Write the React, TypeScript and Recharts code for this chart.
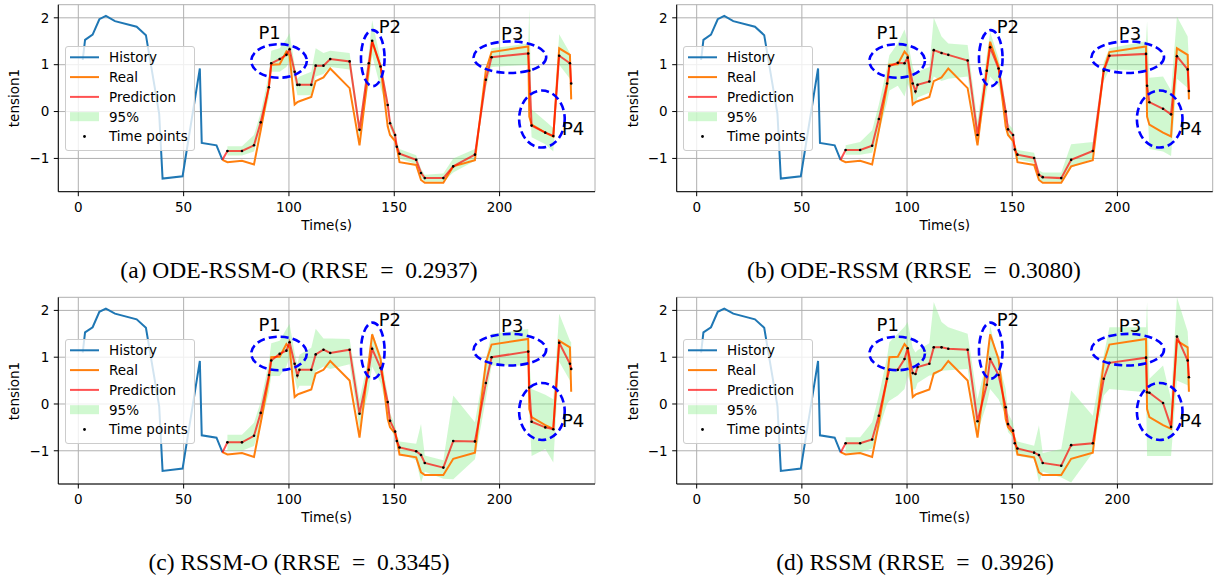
import React from "react";
import {
  ComposedChart,
  Line,
  Area,
  Scatter,
  XAxis,
  YAxis,
  CartesianGrid,
  ReferenceDot,
} from "recharts";

// history segment (shared by all four panels)
const HIST_T = [2.1, 3.2, 6.8, 10.0, 13.1, 17.4, 27.7, 32.1, 38.4, 40.0, 49.5, 57.7, 58.6, 65.6, 68.4];
const HIST = [1.1, 1.53, 1.64, 1.97, 2.04, 1.93, 1.81, 1.63, -0.05, -1.43, -1.38, 0.92, -0.67, -0.72, -1.03];

// irregular time points of the forecast window
const T = [
  68.4, 70.8, 77.7, 83.4, 86.6, 90.5, 91.6, 95.6, 98.8, 100.3,
  102.7, 104.0, 105.0, 110.6, 112.7, 116.4, 119.6, 128.8, 133.5, 137.9,
  139.5, 143.5, 146.9, 148.0, 150.4, 151.2, 152.5, 160.4, 162.7, 164.5,
  173.3, 178.0, 188.3, 193.5, 196.2, 213.6, 214.1, 215.2, 221.7, 225.5,
  228.3, 233.4, 234.0,
];
const REAL = [
  -1.03, -1.08, -1.05, -1.13, -0.4, 0.55, 1.0, 1.01, 1.28, 1.2,
  0.15, 0.2, 0.22, 0.31, 0.65, 0.73, 0.92, 0.5, -0.72, 0.9,
  1.49, 0.96, -0.32, -0.5, -0.63, -0.75, -1.08, -1.14, -1.46, -1.52,
  -1.52, -1.17, -1.04, 0.89, 1.27, 1.39, -0.11, -0.28, -0.45, -0.53,
  1.35, 1.21, 0.26,
];

// (a) ODE-RSSM-O
const PRED_A = [
  -1.03, -0.84, -0.84, -0.72, -0.23, 0.52, 1.03, 1.12, 1.21, 1.33,
  0.85, 0.57, 0.57, 0.57, 0.98, 0.98, 1.12, 1.07, -0.39, 1.03,
  1.51, 0.96, 0.14, -0.25, -0.5, -0.75, -0.9, -1.03, -1.31, -1.42,
  -1.42, -1.17, -0.92, 0.68, 1.16, 1.24, 0.87, -0.3, -0.45, -0.52,
  1.19, 1.03, 0.6,
];
const LO_A = [
  null, -0.94, -0.94, -0.85, -0.4, 0.3, 0.85, 0.85, 0.95, 1.1,
  0.65, 0.35, 0.35, 0.35, 0.75, 0.8, 0.95, 0.9, -0.55, 0.6,
  1.2, 0.5, 0.05, -0.35, -0.6, -0.85, -1.0, -1.12, -1.4, -1.5,
  -1.5, -1.3, -1.05, 0.5, 0.95, 1.0, 0.5, -0.55, -0.7, -0.85,
  1.0, 0.7, 0.35,
];
const HI_A = [
  null, -0.74, -0.74, -0.5, -0.02, 0.8, 1.3, 1.35, 1.55, 1.67,
  1.0, 0.7, 0.75, 0.85, 1.35, 1.25, 1.3, 1.25, -0.25, 1.25,
  1.95, 1.1, 0.25, -0.15, -0.4, -0.65, -0.8, -0.93, -1.22, -1.35,
  -1.32, -1.0, -0.8, 0.85, 1.35, 1.45, 2.2, 0.05, -0.2, -0.35,
  1.65, 1.25, 0.9,
];

// (b) ODE-RSSM
const PRED_B = [
  -1.03, -0.82, -0.82, -0.73, -0.16, 0.6, 0.97, 1.04, 1.03, 1.15,
  0.6, 0.43, 0.57, 0.64, 1.31, 1.25, 1.21, 1.09, -0.5, 0.87,
  1.37, 0.92, 0.0, -0.38, -0.5, -0.81, -0.92, -0.99, -1.35, -1.4,
  -1.42, -1.03, -0.84, 0.87, 1.19, 1.23, 0.55, 0.2, 0.06, -0.06,
  1.18, 0.9, 0.44,
];
const LO_B = [
  null, -0.92, -0.92, -0.88, -0.45, 0.2, 0.45, 0.55, 0.32, 0.6,
  0.3, 0.15, 0.3, 0.4, 0.75, 0.65, 0.7, 0.75, -0.7, 0.45,
  0.75, 0.55, -0.15, -0.5, -0.62, -0.92, -1.02, -1.1, -1.45, -1.5,
  -1.5, -1.2, -1.0, 0.65, 0.9, 0.88, 0.3, -0.8, -0.85, -0.95,
  0.7, 0.5, 0.27,
];
const HI_B = [
  null, -0.72, -0.65, -0.4, 0.15, 0.95, 1.2, 1.45, 1.75, 1.5,
  0.95, 0.8, 0.85, 0.95, 2.0, 1.6, 1.45, 1.42, -0.2, 1.2,
  1.7, 1.15, 0.15, -0.25, -0.38, -0.7, -0.82, -0.88, -1.25, -1.3,
  -1.3, -0.7, -0.65, 1.05, 1.35, 1.5, 1.92, 0.72, 0.75, 0.45,
  2.03, 1.6, 1.05,
];

// (c) RSSM-O
const PRED_C = [
  -1.04, -0.82, -0.82, -0.68, -0.19, 0.62, 0.93, 1.07, 1.14, 1.32,
  0.86, 0.61, 0.73, 0.73, 1.06, 1.16, 1.09, 1.16, -0.21, 0.73,
  1.18, 0.77, 0.04, -0.36, -0.59, -0.79, -0.93, -1.01, -1.09, -1.26,
  -1.36, -0.79, -0.8, 0.45, 1.0, 1.12, 0.35, -0.38, -0.5, -0.54,
  1.31, 0.86, 0.75,
];
const LO_C = [
  null, -1.0, -1.0, -0.9, -0.45, 0.25, 0.6, 0.6, 0.8, 1.0,
  0.55, 0.3, 0.39, 0.39, 0.7, 0.8, 0.75, 0.85, -0.54, 0.3,
  0.8, 0.45, -0.15, -0.5, -0.72, -0.92, -1.05, -1.2, -1.68, -1.45,
  -1.6, -1.61, -1.18, 0.11, 0.82, 0.82, -0.2, -1.11, -0.96, -1.25,
  0.9, 0.5, 0.32,
];
const HI_C = [
  null, -0.66, -0.66, -0.4, 0.05, 0.9, 1.3, 1.35, 1.6, 1.71,
  1.1, 0.85, 1.05, 1.2, 1.61, 1.4, 1.4, 1.39, 0.1, 1.0,
  1.54, 1.05, 0.2, -0.2, -0.45, -0.65, -0.8, -0.85, -0.43, -1.1,
  -1.2, 0.18, -0.39, 0.96, 1.5, 1.6, 0.9, 0.32, 0.2, 0.1,
  1.93, 1.35, 1.32,
];

// (d) RSSM
const PRED_D = [
  -1.04, -0.84, -0.84, -0.76, -0.25, 0.54, 0.73, 0.73, 0.96, 1.19,
  0.66, 0.64, 0.79, 0.86, 1.21, 1.21, 1.18, 1.16, -0.37, 0.41,
  0.96, 0.62, -0.07, -0.43, -0.57, -0.84, -0.95, -1.04, -1.09, -1.26,
  -1.32, -0.88, -0.84, 0.54, 0.88, 0.99, 0.25, 0.24, 0.02, -0.49,
  1.44, 0.93, 0.57,
];
const LO_D = [
  null, -1.04, -1.04, -0.95, -0.55, 0.0, 0.07, 0.18, 0.32, 0.61,
  0.3, 0.32, 0.45, 0.61, 0.61, 0.71, 0.72, 0.75, -0.61, 0.0,
  0.32, 0.1, -0.25, -0.6, -0.72, -1.0, -1.1, -1.18, -1.68, -1.45,
  -1.57, -1.68, -1.04, 0.18, 0.32, 0.25, -1.11, -1.11, -1.11, -1.11,
  0.5, 0.4, 0.25,
];
const HI_D = [
  null, -0.71, -0.71, -0.39, 0.18, 1.0, 1.32, 1.5, 1.65, 1.75,
  1.2, 1.1, 1.15, 1.3, 2.18, 1.75, 1.64, 1.5, 0.1, 0.95,
  1.68, 0.9, 0.32, -0.2, -0.4, -0.68, -0.8, -0.89, -0.46, -1.05,
  -0.96, 0.29, -0.25, 1.04, 1.64, 1.64, 2.18, 0.54, 0.82, 0.1,
  2.28, 1.55, 1.04,
];

const CAPTIONS = [
  "(a) ODE-RSSM-O (RRSE\u2002=\u20020.2937)",
  "(b) ODE-RSSM (RRSE\u2002=\u20020.3080)",
  "(c) RSSM-O (RRSE\u2002=\u20020.3345)",
  "(d) RSSM (RRSE\u2002=\u20020.3926)",
];

const X_TICKS = [0, 50, 100, 150, 200];
const Y_TICKS = [-1, 0, 1, 2];
const X_DOMAIN = [-9.5, 245.3];
const Y_DOMAIN = [-1.71, 2.28];

// dashed ellipse marks: centre (t, y) and label anchor
const MARK_NAMES = ["P1", "P2", "P3", "P4"];
const MARK_T = [95.3, 139.8, 204.9, 220.1];
const MARK_Y = [1.08, 1.14, 1.16, -0.16];
const LABEL_T = [90.8, 147.9, 206.0, 234.9];
const LABEL_Y = [1.69, 1.81, 1.67, -0.36];
const MARK_R = [
  [27.8, 16.8],
  [11.8, 28],
  [36.3, 15.8],
  [22.8, 28.5],
];

const SERIES = [
  { pred: PRED_A, lo: LO_A, hi: HI_A },
  { pred: PRED_B, lo: LO_B, hi: HI_B },
  { pred: PRED_C, lo: LO_C, hi: HI_C },
  { pred: PRED_D, lo: LO_D, hi: HI_D },
];

// panel boxes and their plot rectangles (panel-local px)
const BOXES = [
  { left: 0, top: 0, w: 610, h: 290, pl: 58.3, pt: 4.7, pr: 595, pb: 191.7, cap: 299 },
  { left: 610, top: 0, w: 611, h: 290, pl: 66.7, pt: 4.7, pr: 602.7, pb: 191.7, cap: 304 },
  { left: 0, top: 290, w: 610, h: 290, pl: 58.3, pt: 7.3, pr: 595, pb: 194, cap: 299 },
  { left: 610, top: 290, w: 611, h: 290, pl: 66.7, pt: 7.3, pr: 602.7, pb: 194, cap: 305 },
];

const FONT = "'DejaVu Sans', sans-serif";
const C_HIST = "#1f77b4";
const C_REAL = "#ff7f0e";
const C_PRED = "rgba(255,0,0,0.68)";
const C_BAND = "#90ee90";

const fmtY = (v: number) => (v < 0 ? "\u2212" + Math.abs(v) : String(v));

function buildRows(s: { pred: number[]; lo: (number | null)[]; hi: (number | null)[] }) {
  const rows: any[] = [];
  for (let i = 0; i < HIST_T.length - 1; i++) rows.push({ t: HIST_T[i], history: HIST[i] });
  T.forEach((t, i) => {
    const row: any = { t, real: REAL[i], pred: s.pred[i] };
    if (i === 0) row.history = HIST[HIST.length - 1];
    if (s.lo[i] !== null && s.hi[i] !== null) row.band = [s.lo[i], s.hi[i]];
    rows.push(row);
  });
  return rows;
}

function LegendBox({ x, y }: { x: number; y: number }) {
  const rowY = [11.3, 31.1, 50.9, 70.7, 90.5];
  const labels = ["History", "Real", "Prediction", "95%", "Time points"];
  return (
    <div
      style={{
        position: "absolute",
        left: x,
        top: y,
        width: 130,
        height: 105,
        background: "rgba(255,255,255,0.8)",
        border: "1px solid #cccccc",
        borderRadius: 3,
        boxSizing: "border-box",
      }}
    >
      <svg width={130} height={105} style={{ position: "absolute", left: -1, top: -1 }}>
        <line x1={5} x2={34} y1={rowY[0]} y2={rowY[0]} stroke={C_HIST} strokeWidth={2} />
        <line x1={5} x2={34} y1={rowY[1]} y2={rowY[1]} stroke={C_REAL} strokeWidth={2} />
        <line x1={5} x2={34} y1={rowY[2]} y2={rowY[2]} stroke={C_PRED} strokeWidth={2} />
        <rect x={5} y={rowY[3] - 4.5} width={29} height={9} fill={C_BAND} fillOpacity={0.42} />
        <circle cx={19.5} cy={rowY[4]} r={1.4} fill="#000" />
        {labels.map((l, i) => (
          <text key={l} x={44} y={rowY[i]} dy="0.36em" fontFamily={FONT} fontSize={13.5} fill="#000">
            {l}
          </text>
        ))}
      </svg>
    </div>
  );
}

function Panel({ idx }: { idx: number }) {
  const b = BOXES[idx];
  const s = SERIES[idx];
  const rows = buildRows(s);
  const dots = T.slice(1).map((t, i) => ({ t, y: s.pred[i + 1] }));
  const axisH = 30;
  const tick = { fontFamily: FONT, fontSize: 13.5, fill: "#000" } as any;
  return (
    <div style={{ position: "absolute", left: b.left, top: b.top, width: b.w, height: b.h }}>
      <ComposedChart
        width={b.w}
        height={b.h}
        data={rows}
        margin={{ top: b.pt, right: b.w - b.pr, left: 0, bottom: b.h - b.pb - axisH }}
      >
        <CartesianGrid stroke="#b0b0b0" strokeWidth={1} />
        <XAxis
          type="number"
          dataKey="t"
          domain={X_DOMAIN}
          allowDataOverflow
          ticks={X_TICKS}
          height={axisH}
          tickSize={4.5}
          tickMargin={6}
          tickLine={{ stroke: "#000" }}
          axisLine={{ stroke: "#000" }}
          tick={tick}
        />
        <XAxis
          xAxisId="top"
          orientation="top"
          type="number"
          dataKey="t"
          domain={X_DOMAIN}
          allowDataOverflow
          height={0}
          tick={false}
          tickLine={false}
          axisLine={{ stroke: "#000" }}
        />
        <YAxis
          type="number"
          domain={Y_DOMAIN}
          allowDataOverflow
          ticks={Y_TICKS}
          width={b.pl}
          tickSize={4.5}
          tickMargin={4.5}
          tickFormatter={fmtY}
          tickLine={{ stroke: "#000" }}
          axisLine={{ stroke: "#000" }}
          tick={tick}
        />
        <YAxis
          yAxisId="right"
          orientation="right"
          type="number"
          domain={Y_DOMAIN}
          allowDataOverflow
          width={0}
          tick={false}
          tickLine={false}
          axisLine={{ stroke: "#000" }}
        />
        <Area
          dataKey="band"
          stroke="none"
          fill={C_BAND}
          fillOpacity={0.42}
          isAnimationActive={false}
          activeDot={false}
        />
        <Line
          dataKey="history"
          stroke={C_HIST}
          strokeWidth={2}
          dot={false}
          activeDot={false}
          isAnimationActive={false}
        />
        <Line
          dataKey="real"
          stroke={C_REAL}
          strokeWidth={2}
          dot={false}
          activeDot={false}
          isAnimationActive={false}
        />
        <Line
          dataKey="pred"
          stroke={C_PRED}
          strokeWidth={2}
          dot={false}
          activeDot={false}
          isAnimationActive={false}
        />
        <Scatter
          data={dots}
          dataKey="y"
          isAnimationActive={false}
          shape={(p: any) => <circle cx={p.cx} cy={p.cy} r={1.3} fill="#000" />}
        />
        {MARK_NAMES.map((n, i) => (
          <ReferenceDot
            key={"e" + n}
            x={MARK_T[i]}
            y={MARK_Y[i]}
            ifOverflow="visible"
            shape={(p: any) => (
              <ellipse
                cx={p.cx}
                cy={p.cy}
                rx={MARK_R[i][0]}
                ry={MARK_R[i][1]}
                fill="none"
                stroke="#0000ff"
                strokeWidth={2.6}
                strokeDasharray="8 4"
              />
            )}
          />
        ))}
        {MARK_NAMES.map((n, i) => (
          <ReferenceDot
            key={"l" + n}
            x={LABEL_T[i]}
            y={LABEL_Y[i]}
            ifOverflow="visible"
            shape={(p: any) => (
              <text
                x={p.cx}
                y={p.cy}
                dy="0.36em"
                textAnchor="middle"
                fontFamily={FONT}
                fontSize={18}
                fill="#000"
              >
                {n}
              </text>
            )}
          />
        ))}
      </ComposedChart>
      <LegendBox x={b.pl + 6.7} y={b.pt + 41.3} />
      <div
        style={{
          position: "absolute",
          left: b.pl - 52,
          top: (b.pt + b.pb) / 2 - 8,
          width: 16,
          height: 16,
          display: "flex",
          alignItems: "center",
          justifyContent: "center",
        }}
      >
        <span
          style={{
            transform: "rotate(-90deg)",
            fontFamily: FONT,
            fontSize: 13.5,
            whiteSpace: "nowrap",
            color: "#000",
          }}
        >
          tension1
        </span>
      </div>
      <div
        style={{
          position: "absolute",
          left: b.pl,
          width: b.pr - b.pl,
          top: b.pb + 25,
          textAlign: "center",
          fontFamily: FONT,
          fontSize: 13.5,
          lineHeight: "16px",
          color: "#000",
        }}
      >
        Time(s)
      </div>
      <div
        style={{
          position: "absolute",
          left: b.cap - 300,
          width: 600,
          top: b.pb + 64,
          textAlign: "center",
          fontFamily: "'Liberation Serif', 'Times New Roman', serif",
          fontSize: 23.5,
          lineHeight: "28px",
          color: "#000",
          whiteSpace: "nowrap",
        }}
      >
        {CAPTIONS[idx]}
      </div>
    </div>
  );
}

export default function App() {
  return (
    <div
      style={{
        position: "absolute",
        left: 0,
        top: 0,
        width: 1221,
        height: 580,
        background: "#fff",
        overflow: "hidden",
      }}
    >
      {[0, 1, 2, 3].map((i) => (
        <Panel key={i} idx={i} />
      ))}
    </div>
  );
}
